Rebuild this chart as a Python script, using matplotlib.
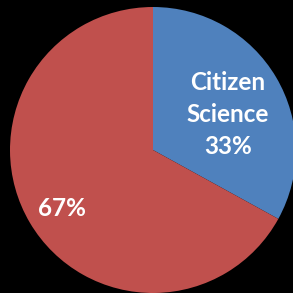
import matplotlib

matplotlib.use("Agg")
import matplotlib.pyplot as plt

values = [33, 67]
colors = ["#4F81BD", "#C0504D"]
blue_lines = ["Citizen", "Science", "33%"]
red_label = "67%"

W = H = 293
fig = plt.figure(figsize=(W / 100, H / 100), dpi=100, facecolor="black")
ax = fig.add_axes([0, 0, 1, 1])
ax.set_facecolor("black")

center = (153, H - 150)
radius = 143
wedges, _ = ax.pie(
    values,
    colors=colors,
    startangle=90,
    counterclock=False,
    radius=radius,
    center=center,
    wedgeprops={"linewidth": 0},
)

font = dict(color="white", fontweight="bold", fontsize=17.5, family=["Lato", "DejaVu Sans"],
            ha="center", va="center")
for i, line in enumerate(blue_lines):
    ax.text(228, H - (82 + 32.5 * i), line, **font)
ax.text(62, H - 208, red_label, **font)

ax.set_xlim(0, W)
ax.set_ylim(0, H)
ax.set_aspect("equal")
ax.axis("off")
fig.savefig("out.png", dpi=100, facecolor="black")
